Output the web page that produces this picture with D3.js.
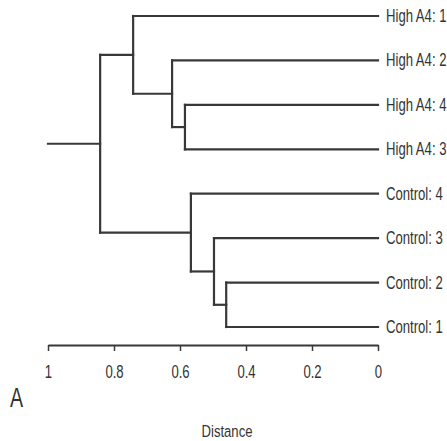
<!DOCTYPE html>
<html>
<head>
<meta charset="utf-8">
<script src="https://cdn.jsdelivr.net/npm/d3@7"></script>
<style>
  body { margin: 0; background: #fff; }
  text { font-family: "Liberation Sans", Arial, sans-serif; fill: #333; }
</style>
</head>
<body>
<div id="chart"></div>
<script>
// leaves, top to bottom
var leaves = ["High A4: 1", "High A4: 2", "High A4: 4", "High A4: 3",
              "Control: 4", "Control: 3", "Control: 2", "Control: 1"];

// merges like hclust: negative = leaf (1-based), positive = earlier merge
var mergeLeft   = [-7, -6, -5, -3, -2, -1, 6];
var mergeRight  = [-8,  1,  2, -4,  4,  5, 3];
var mergeHeight = [0.46, 0.497, 0.567, 0.585, 0.624, 0.742, 0.842];

var rootTop = 1;   // root stub goes up to here
var tickValues = [1, 0.8, 0.6, 0.4, 0.2, 0];

var width = 447, height = 441;

var svg = d3.select("#chart").append("svg")
  .attr("width", width)
  .attr("height", height);

var x = d3.scaleLinear().domain([1, 0]).range([48, 378]);
var y = d3.scalePoint().domain(leaves).range([16, 327]);

// narrow look: the reference font is condensed and a bit tall
var squeeze = " scale(0.82,1.12)";

// position of each merge node
var nodeY = [], nodeX = [];
function childPos(id) {
  if (id < 0) return { x: x(0), y: y(leaves[-id - 1]) };
  return { x: nodeX[id - 1], y: nodeY[id - 1] };
}

var segs = [];
mergeLeft.forEach(function(l, i) {
  var a = childPos(l), b = childPos(mergeRight[i]);
  var hx = x(mergeHeight[i]);
  nodeX[i] = hx;
  nodeY[i] = (a.y + b.y) / 2;
  segs.push([hx, a.y, a.x, a.y]);
  segs.push([hx, b.y, b.x, b.y]);
  segs.push([hx, a.y, hx, b.y]);
});
var last = nodeX.length - 1;
segs.push([x(rootTop), nodeY[last], nodeX[last], nodeY[last]]);

svg.append("g")
  .selectAll("line")
  .data(segs)
  .enter()
  .append("line")
  .attr("x1", function(d) { return d[0]; })
  .attr("y1", function(d) { return d[1]; })
  .attr("x2", function(d) { return d[2]; })
  .attr("y2", function(d) { return d[3]; })
  .attr("stroke", "#383838")
  .attr("stroke-width", 2.2)
  .attr("stroke-linecap", "square");

// leaf labels
svg.append("g")
  .selectAll("text")
  .data(leaves)
  .enter()
  .append("text")
  .attr("transform", function(d) { return "translate(386," + (y(d) + 6) + ")" + squeeze; })
  .style("font-size", "16px")
  .text(function(d) { return d; });

// axis
var axis = svg.append("g")
  .attr("transform", "translate(0,345)")
  .call(d3.axisBottom(x).tickValues(tickValues).tickSize(6).tickSizeOuter(0)
        .tickFormat(function(d) { return String(d); }));
axis.select(".domain").attr("stroke", "#383838").attr("stroke-width", 2);
axis.selectAll(".tick line").attr("stroke", "#383838").attr("stroke-width", 1.5);
axis.selectAll(".tick text").remove();
axis.selectAll(".tick")
  .append("text")
  .attr("transform", "translate(0,33)" + squeeze)
  .attr("text-anchor", "middle")
  .style("font-size", "16px")
  .text(function(d) { return String(d); });

svg.append("text")
  .attr("transform", "translate(10,407) scale(0.82,1.17)")
  .style("font-size", "24px")
  .text("A");

svg.append("text")
  .attr("transform", "translate(227,437) scale(0.82,1.05)")
  .attr("text-anchor", "middle")
  .style("font-size", "16px")
  .text("Distance");
</script>
</body>
</html>
